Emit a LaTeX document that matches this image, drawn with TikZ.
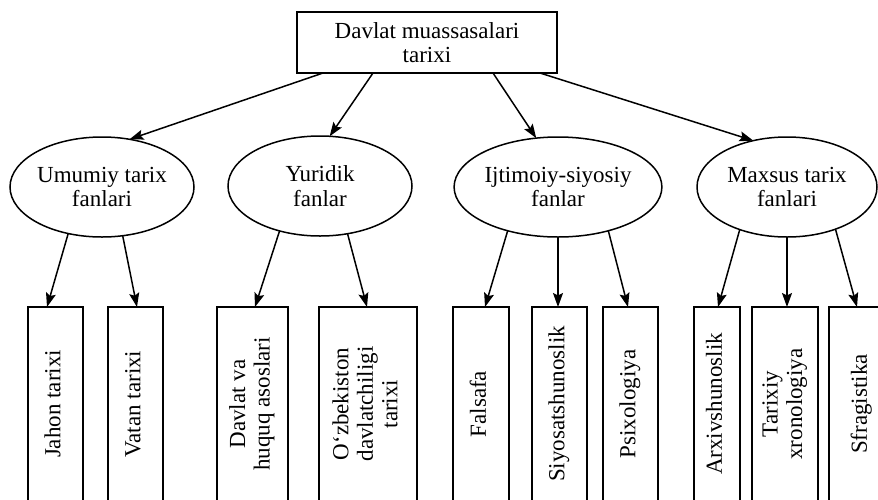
\documentclass[tikz,border=0pt]{standalone}
\usepackage{fontspec}
\setmainfont{Liberation Serif}
\usepackage{graphicx}
\usetikzlibrary{shapes.geometric,arrows.meta,calc}
\begin{document}
\begin{tikzpicture}[x=1pt,y=-1pt,
  txt/.style={font=\fontsize{23}{24.5}\selectfont},
  topbox/.style={draw, line width=1.8pt, minimum width=260pt, minimum height=61pt, inner sep=0pt, outer sep=0pt, align=center, txt},
  oval/.style={draw, ellipse, line width=1.5pt, inner sep=0pt, outer sep=0pt, minimum height=100pt, align=center, txt},
  leaf/.style={draw, line width=1.7pt, minimum height=194pt, inner sep=0pt, outer sep=0pt, txt},
  arr/.style={line width=1.5pt, -{Stealth[length=14pt,width=10pt,inset=2.5pt]}}]
\useasboundingbox (0,0) rectangle (878,499);
\clip (0,0) rectangle (878,499);
\node[topbox] (top) at (427,42.5) {Davlat muassasalari\\tarixi};
\node[oval, minimum width=184pt] (umumiy) at (102,187) {Umumiy tarix\\fanlari};
\node[oval, minimum width=184pt] (yuridik) at (320,186) {Yuridik\\fanlar};
\node[oval, minimum width=206pt] (ijtimoiy) at (558,187) {Ijtimoiy-siyosiy\\fanlar};
\node[oval, minimum width=180pt] (maxsus) at (787,187) {Maxsus tarix\\fanlari};
\newcommand{\vt}[1]{\rotatebox{90}{\begin{tabular}{@{}c@{}}#1\end{tabular}}}
\node[leaf, minimum width=55pt] (jahon) at (55.5,404) {\vt{Jahon tarixi}};
\node[leaf, minimum width=55pt] (vatan) at (135.5,404) {\vt{Vatan tarixi}};
\node[leaf, minimum width=71pt] (davlat) at (252.5,404) {\vt{Davlat va\\huquq asoslari}};
\node[leaf, minimum width=98pt] (ozb) at (368,404) {\vt{O‘zbekiston\\davlatchiligi\\tarixi}};
\node[leaf, minimum width=56pt] (falsafa) at (481,404) {\vt{Falsafa}};
\node[leaf, minimum width=55pt] (siyosat) at (559.5,404) {\vt{Siyosatshunoslik}};
\node[leaf, minimum width=55pt] (psix) at (630.5,404) {\vt{Psixologiya}};
\node[leaf, minimum width=46pt] (arxiv) at (717,404) {\vt{Arxivshunoslik}};
\node[leaf, minimum width=66pt] (tarixiy) at (785,404) {\vt{Tarixiy\\xronologiya}};
\node[leaf, minimum width=66pt] (sfrag) at (862,404) {\vt{Sfragistika}};
% top level
\draw[arr] ($(top.south west)+(26,0)$) -- (umumiy.60);
\draw[arr] ($(top.south west)+(76,0)$) -- (yuridik.79);
\draw[arr] ($(top.south west)+(196,0)$) -- (ijtimoiy.114);
\draw[arr] ($(top.south west)+(243,0)$) -- (maxsus.126);
% second level
\draw[arr] (umumiy.234) -- ($(jahon.north west)+(19,0)$);
\draw[arr] (umumiy.293) -- ($(vatan.north west)+(29,0)$);
\draw[arr] (yuridik.228) -- ($(davlat.north west)+(38,0)$);
\draw[arr] (yuridik.300) -- ($(ozb.north west)+(48,0)$);
\draw[arr] (ijtimoiy.221.5) -- ($(falsafa.north west)+(32,0)$);
\draw[arr] (ijtimoiy.270) -- ($(siyosat.north west)+(26,0)$);
\draw[arr] (ijtimoiy.319.6) -- ($(psix.north west)+(25,0)$);
\draw[arr] (maxsus.222) -- ($(arxiv.north west)+(24,0)$);
\draw[arr] (maxsus.270) -- ($(tarixiy.north west)+(35,0)$);
\draw[arr] (maxsus.319.7) -- ($(sfrag.north west)+(28,0)$);
\end{tikzpicture}
\end{document}
